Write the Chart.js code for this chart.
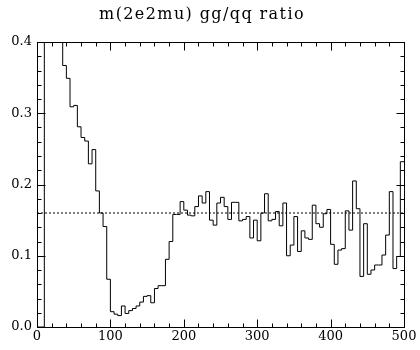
<!DOCTYPE html>
<html><head><meta charset="utf-8">
<script src="https://cdn.jsdelivr.net/npm/chart.js@4/dist/chart.umd.min.js"></script>
<style>html,body{margin:0;padding:0;background:#fff}</style>
</head><body>
<canvas id="c" width="420" height="350" style="width:420px;height:350px;display:block"></canvas>
<script>
// ---- data ----
const titleText = 'm(2e2mu) gg/qq ratio';
const binStart = 0;
const binWidth = 5;
// gg/qq ratio per 5-unit bin, 0..500 (bins 10-35 are above the plot top)
const ratio = [
  0, 0, 0.62, 0.58, 0.52, 0.47, 0.42, 0.367, 0.349, 0.309,
  0.311, 0.281, 0.266, 0.261, 0.229, 0.249, 0.191, 0.160, 0.141, 0.067,
  0.0215, 0.018, 0.016, 0.0295, 0.019, 0.023, 0.026, 0.0295, 0.035, 0.043,
  0.044, 0.034, 0.054, 0.058, 0.058, 0.095, 0.120, 0.158, 0.158, 0.176,
  0.164, 0.157, 0.156, 0.169, 0.184, 0.174, 0.190, 0.150, 0.143, 0.174,
  0.182, 0.169, 0.151, 0.175, 0.175, 0.149, 0.151, 0.155, 0.125, 0.150,
  0.121, 0.160, 0.187, 0.149, 0.151, 0.162, 0.142, 0.174, 0.100, 0.115,
  0.155, 0.106, 0.135, 0.125, 0.123, 0.171, 0.145, 0.140, 0.159, 0.165,
  0.116, 0.088, 0.108, 0.110, 0.163, 0.136, 0.205, 0.166, 0.071, 0.145,
  0.074, 0.080, 0.087, 0.087, 0.101, 0.129, 0.190, 0.082, 0.099, 0.232
];
const refLineX = [0, 500];
const refLineY = [0.16, 0.16];
const xTickValues = [0, 100, 200, 300, 400, 500];
const yTickValues = [0, 0.1, 0.2, 0.3, 0.4];
const xMinorStep = 20;
const yMinorStep = 0.02;

// ---- build ----
const histPoints = ratio.map((v, i) => ({ x: binStart + i * binWidth, y: v }));
histPoints.push({ x: binStart + ratio.length * binWidth, y: ratio[ratio.length - 1] });
const refPoints = refLineX.map((x, i) => ({ x: x, y: refLineY[i] }));

const tickFont = { family: 'DejaVu Serif', size: 13 };

const frameTicks = {
  id: 'frameTicks',
  afterDatasetsDraw(chart) {
    const { ctx, chartArea: a, scales: { x, y } } = chart;
    ctx.save();
    ctx.strokeStyle = '#000';
    ctx.lineWidth = 1;
    ctx.setLineDash([]);
    ctx.beginPath();
    const L = Math.round(a.left) + 0.5, R = Math.round(a.right) + 0.5;
    const T = Math.round(a.top) + 0.5, B = Math.round(a.bottom) + 0.5;
    const nx = Math.round((x.max - x.min) / xMinorStep);
    for (let i = 0; i <= nx; i++) {
      const v = x.min + i * xMinorStep;
      const px = Math.round(x.getPixelForValue(v)) + 0.5;
      const len = (Math.round(v) % 100 === 0) ? 8 : 4;
      ctx.moveTo(px, B); ctx.lineTo(px, B - len);
      ctx.moveTo(px, T); ctx.lineTo(px, T + len);
    }
    const ny = Math.round((y.max - y.min) / yMinorStep);
    for (let i = 0; i <= ny; i++) {
      const py = Math.round(y.getPixelForValue(y.min + i * yMinorStep)) + 0.5;
      const len = (i % 5 === 0) ? 8 : 4;
      ctx.moveTo(L, py); ctx.lineTo(L + len, py);
      ctx.moveTo(R, py); ctx.lineTo(R - len, py);
    }
    ctx.stroke();
    ctx.strokeRect(L, T, R - L, B - T);
    ctx.restore();
  }
};

const spacedTitle = {
  id: 'spacedTitle',
  afterLayout(chart) {
    const tb = chart.titleBlock;
    if (tb && !tb._spaced) {
      const orig = tb.draw.bind(tb);
      tb.draw = function () {
        const ctx = chart.ctx;
        ctx.save();
        ctx.letterSpacing = '1.4px';
        orig();
        ctx.restore();
      };
      tb._spaced = true;
    }
  }
};

new Chart(document.getElementById('c'), {
  type: 'line',
  data: {
    datasets: [
      { data: histPoints, stepped: 'before', borderColor: '#000', borderWidth: 1,
        pointRadius: 0, fill: false, tension: 0 },
      { data: refPoints, borderColor: '#000', borderWidth: 1, borderDash: [2, 2],
        pointRadius: 0, fill: false }
    ]
  },
  options: {
    responsive: false,
    devicePixelRatio: 1,
    animation: false,
    events: [],
    layout: { padding: { left: 0, right: 16, top: 0, bottom: 0 } },
    plugins: {
      legend: { display: false },
      tooltip: { enabled: false },
      title: {
        display: true, text: titleText, color: '#000',
        font: { family: 'DejaVu Serif', size: 16, weight: 'normal', lineHeight: 1.2 },
        padding: { top: 5, bottom: 17.8 }
      }
    },
    scales: {
      x: {
        type: 'linear', min: 0, max: 500,
        afterBuildTicks: s => { s.ticks = xTickValues.map(v => ({ value: v })); },
        ticks: { color: '#000', font: tickFont, padding: 2, maxRotation: 0, autoSkip: false,
                 callback: v => String(v) },
        grid: { display: false, drawTicks: false },
        border: { display: false },
        afterFit: s => { s.height = 23; }
      },
      y: {
        type: 'linear', min: 0, max: 0.4,
        afterBuildTicks: s => { s.ticks = yTickValues.map(v => ({ value: v })); },
        ticks: { color: '#000', font: tickFont, padding: 5, autoSkip: false,
                 callback: v => Number(v).toFixed(1) },
        grid: { display: false, drawTicks: false },
        border: { display: false },
        afterFit: s => { s.width = 37; }
      }
    }
  },
  plugins: [frameTicks, spacedTitle]
});
</script>
</body></html>
